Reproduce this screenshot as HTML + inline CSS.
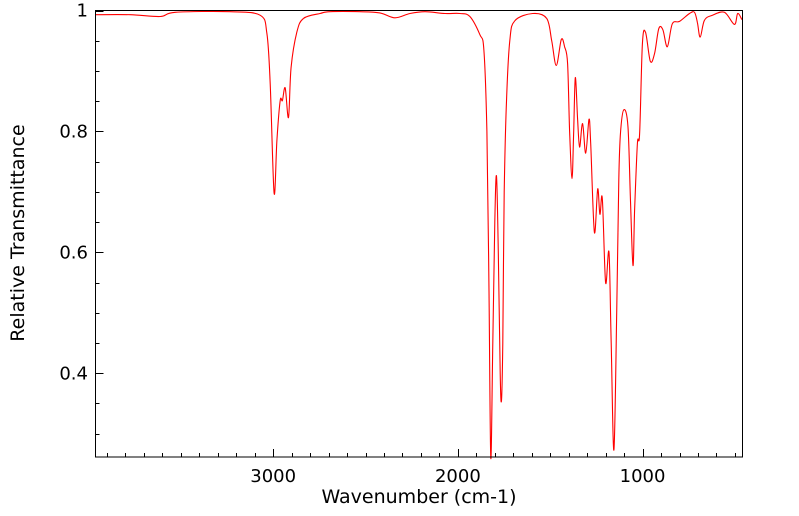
<!DOCTYPE html>
<html><head><meta charset="utf-8"><style>
body{margin:0;background:#fff}
svg{display:block;font-family:"DejaVu Sans","Liberation Sans",sans-serif}
</style></head><body>
<svg id="chart" width="799" height="516" viewBox="0 0 799 516" xmlns="http://www.w3.org/2000/svg">
<g id="axes"></g>
<path id="series" fill="none" stroke="#ff0000" stroke-width="1.1" stroke-linejoin="round"/>
<rect x="95.5" y="10.5" width="647" height="446.5" fill="none" stroke="#000" stroke-width="1"/>
<text x="419" y="503" font-size="19" text-anchor="middle">Wavenumber (cm-1)</text>
<text transform="translate(24,233) rotate(-90)" font-size="19" text-anchor="middle">Relative Transmittance</text>
</svg>
<script>
const wavenumbers=[3962,3773,3611,3530,3232,3070,3034,3016,2995,2980,2962,2950,2935,2917,2903,2872,2836,2746,2692,2530,2422,2341,2259,2178,2070,1989,1935,1881,1859,1843,1832,1822,1811,1800,1791,1781,1771,1764,1757,1749,1737,1719,1692,1595,1519,1492,1467,1440,1422,1406,1395,1382,1373,1364,1352,1341,1325,1308,1290,1281,1261,1243,1231,1218,1200,1182,1170,1155,1140,1129,1119,1101,1079,1065,1052,1043,1028,1016,1001,984,958,935,912,890,866,839,800,746,719,703,688,665,622,557,503,485,462];
const transmittance=[0.993,0.993,0.99,0.997,0.998,0.992,0.962,0.879,0.698,0.785,0.851,0.851,0.872,0.823,0.906,0.964,0.987,0.995,0.998,0.998,0.996,0.988,0.995,0.998,0.995,0.995,0.99,0.96,0.934,0.8,0.55,0.26,0.45,0.65,0.726,0.6,0.4,0.355,0.45,0.7,0.85,0.95,0.983,0.995,0.987,0.95,0.909,0.952,0.94,0.912,0.8,0.722,0.8,0.889,0.82,0.774,0.813,0.764,0.82,0.78,0.633,0.705,0.663,0.689,0.55,0.6,0.45,0.273,0.5,0.72,0.8,0.836,0.807,0.68,0.578,0.67,0.78,0.796,0.945,0.964,0.916,0.929,0.97,0.968,0.94,0.978,0.982,0.995,0.997,0.98,0.956,0.984,0.992,0.997,0.977,0.995,0.985];
const xMajorTicks=[3000,2000,1000];
const yMajorTicks=[0.4,0.6,0.8,1];
const xTickLabels=["3000","2000","1000"];
const yTickLabels=["0.4","0.6","0.8","1"];

const X0=95.5,X1=742.5,Y0=10.5,Y1=457;
const WN_L=3962,WN_R=459,T_TOP=1,T_BOT=0.2615;
function xs(w){return X0+(WN_L-w)/(WN_L-WN_R)*(X1-X0);}
function ys(t){return Y0+(T_TOP-t)/(T_TOP-T_BOT)*(Y1-Y0);}
const NS="http://www.w3.org/2000/svg";
const ax=document.getElementById('axes');
function line(x1,y1,x2,y2,name){const l=document.createElementNS(NS,'line');
l.setAttribute('x1',x1);l.setAttribute('y1',y1);l.setAttribute('x2',x2);l.setAttribute('y2',y2);
l.setAttribute('stroke','#000');l.setAttribute('stroke-width','1');


ax.appendChild(l);}
function text(x,y,s,anchor,name){const t=document.createElementNS(NS,'text');
t.setAttribute('x',x);t.setAttribute('y',y);t.setAttribute('font-size','18');t.setAttribute('text-anchor',anchor);t.textContent=s;


ax.appendChild(t);}
for(let w=3900;w>=500;w-=100){const x=Math.round(xs(w))+0.5;const maj=w%1000===0;line(x,Y1,x,Y1-(maj?8:4),'x-tick');}
for(let k=6;k<=20;k++){const t=k*0.05;if(t<T_BOT)continue;const y=Math.round(ys(t))+0.5;const maj=(k%4===0);line(X0,y,X0+(maj?8:4),y,'y-tick');}
xMajorTicks.forEach((w,i)=>text(xs(w),482,xTickLabels[i],'middle','x-tick-label'));
yMajorTicks.forEach((t,i)=>text(88,ys(t)+6,yTickLabels[i],'end','y-tick-label'));
const P=wavenumbers.map((w,i)=>[xs(w),ys(transmittance[i])]);
let d='M'+P[0][0].toFixed(1)+','+P[0][1].toFixed(1);
for(let i=0;i<P.length-1;i++){const p0=P[Math.max(0,i-1)],p1=P[i],p2=P[i+1],p3=P[Math.min(P.length-1,i+2)];
const c1x=p1[0]+(p2[0]-p0[0])/6,c1y=p1[1]+(p2[1]-p0[1])/6,c2x=p2[0]-(p3[0]-p1[0])/6,c2y=p2[1]-(p3[1]-p1[1])/6;
d+='C'+c1x.toFixed(1)+','+Math.max(Y0,c1y).toFixed(1)+' '+c2x.toFixed(1)+','+Math.max(Y0,c2y).toFixed(1)+' '+p2[0].toFixed(1)+','+p2[1].toFixed(1);}
document.getElementById('series').setAttribute('d',d);
</script>
</body></html>
